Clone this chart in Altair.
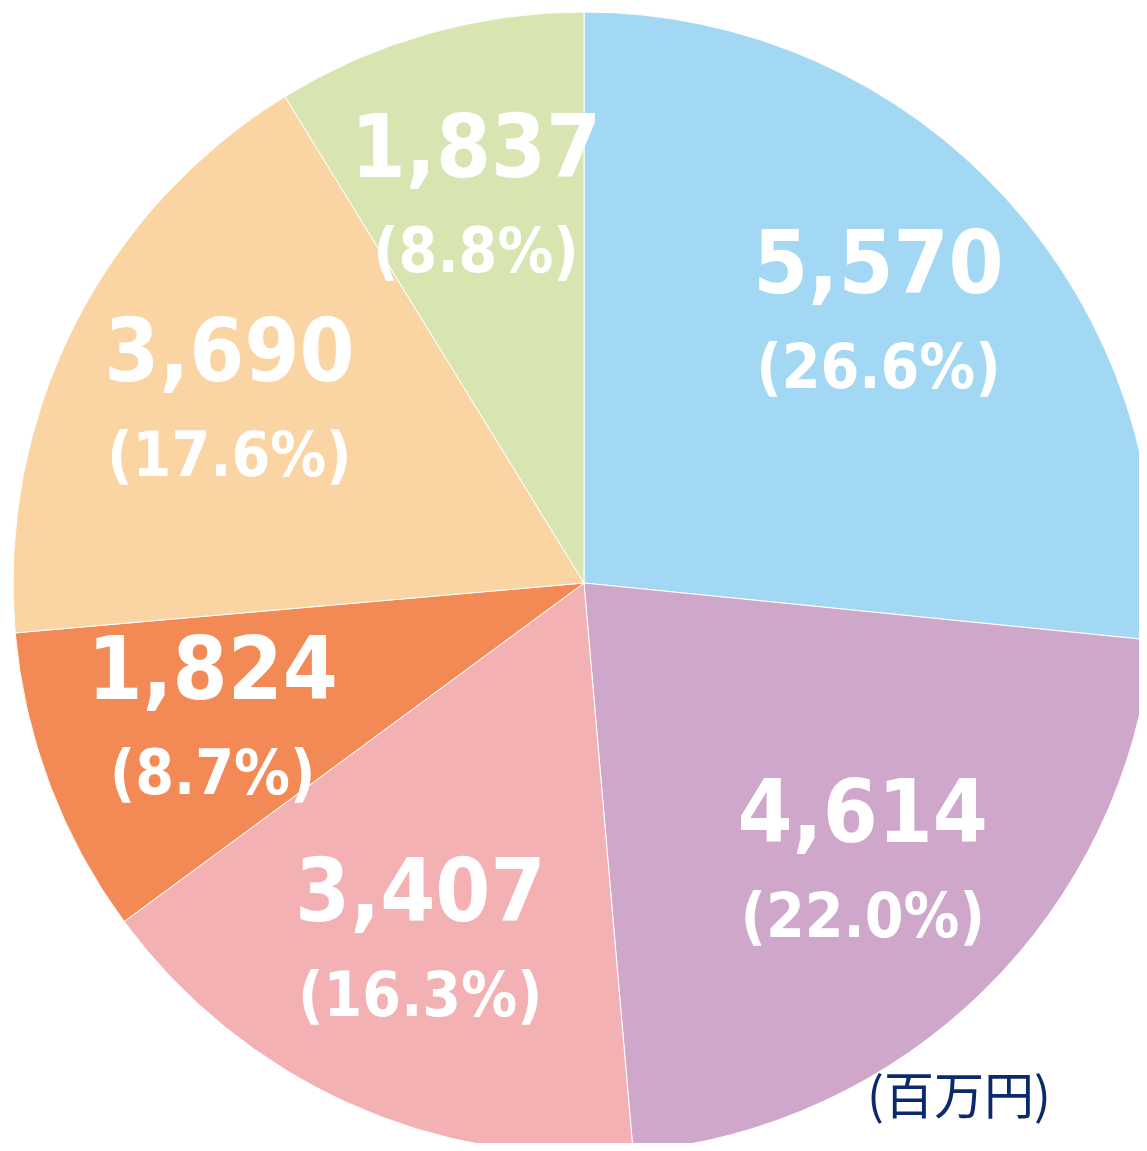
import altair as alt
import pandas as pd

categories = ["A", "B", "C", "D", "E", "F"]
values = [5570, 4614, 3407, 1824, 3690, 1837]
value_labels = ["5,570", "4,614", "3,407", "1,824", "3,690", "1,837"]
pct_labels = ["(26.6%)", "(22.0%)", "(16.3%)", "(8.7%)", "(17.6%)", "(8.8%)"]
colors = ["#A2D8F4", "#CFA7CB", "#F3B1B3", "#F38A55", "#FAD5A3", "#D9E5B0"]
unit_label = "(百万円)"

df = pd.DataFrame({
    "cat": categories,
    "value": values,
    "vlabel": value_labels,
    "plabel": pct_labels,
    "idx": list(range(len(categories))),
})

W, H = 1131, 1135
CX, CY, R = 576, 575, 571
LR = 397

base = alt.Chart(df).encode(
    theta=alt.Theta("value:Q", stack=True),
    order=alt.Order("idx:Q", sort="ascending"),
    x=alt.value(CX),
    y=alt.value(CY),
)

pie = base.mark_arc(radius=R, stroke="white", strokeWidth=1).encode(
    color=alt.Color("cat:N", scale=alt.Scale(domain=categories, range=colors), legend=None)
)

num = base.mark_text(radius=LR, dy=-50, font="DejaVu Sans Condensed", fontWeight="bold",
                     fontSize=88, color="white", baseline="middle", align="center").encode(
    text="vlabel:N"
)
pct = base.mark_text(radius=LR, dy=52, font="DejaVu Sans Condensed", fontWeight="bold",
                     fontSize=62, color="white", baseline="middle", align="center").encode(
    text="plabel:N"
)

unit = alt.Chart(pd.DataFrame({"t": [unit_label]})).mark_text(
    font="Noto Sans CJK JP", fontSize=50, color="#0A2A6B", align="center", baseline="alphabetic"
).encode(text="t:N", x=alt.value(951), y=alt.value(1106))

chart = alt.layer(pie, num, pct, unit).properties(
    width=W, height=H, padding=0, autosize=alt.AutoSizeParams(type="none")
).configure_view(stroke=None)

chart.save("out.html", embed_options={"renderer": "svg", "actions": False})
